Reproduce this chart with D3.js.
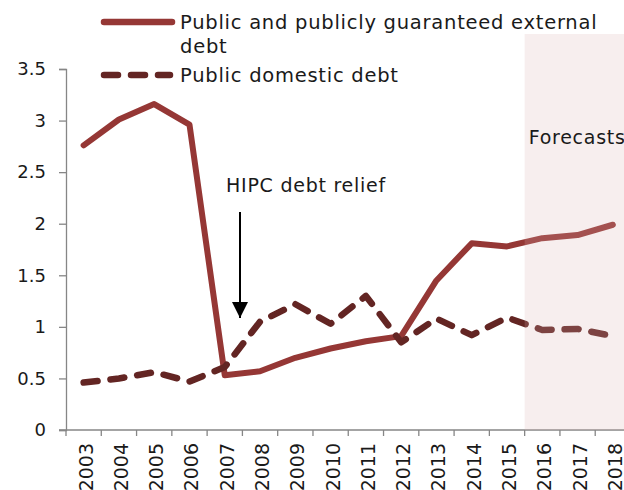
<!DOCTYPE html>
<html>
<head>
<meta charset="utf-8">
<script src="https://cdn.jsdelivr.net/npm/d3@7"></script>
<style>
  body { margin: 0; background: #fff; overflow: hidden; }
  text { font-family: "DejaVu Sans", sans-serif; fill: #1a1a1a; }
</style>
</head>
<body>
<svg id="chart" width="624" height="490"></svg>
<script>
// chart data
var years = ["2003", "2004", "2005", "2006", "2007", "2008", "2009", "2010",
             "2011", "2012", "2013", "2014", "2015", "2016", "2017", "2018"];
var externalDebt = [2.76, 3.01, 3.16, 2.96, 0.53, 0.57, 0.70, 0.79,
                    0.86, 0.91, 1.45, 1.81, 1.78, 1.86, 1.89, 1.99];
var domesticDebt = [0.46, 0.50, 0.56, 0.47, 0.61, 1.05, 1.22, 1.03,
                    1.30, 0.85, 1.08, 0.92, 1.09, 0.97, 0.98, 0.91];
var yTicks = [0, 0.5, 1, 1.5, 2, 2.5, 3, 3.5];
var forecastStart = "2016";

var svg = d3.select("#chart");

var x = d3.scaleBand()
    .domain(years)
    .range([66, 630.5]);

var y = d3.scaleLinear()
    .domain([0, 3.5])
    .range([430, 69]);

var cx = function(d) { return x(d) + x.bandwidth() / 2; };

// y axis
var yAxis = svg.append("g")
    .attr("transform", "translate(66,0)")
    .call(d3.axisLeft(y).tickValues(yTicks).tickSize(7).tickPadding(13)
        .tickFormat(function(d) { return d; }));
yAxis.select(".domain").attr("stroke", "#868686").attr("stroke-width", 1.3);
yAxis.selectAll(".tick line").attr("stroke", "#868686").attr("stroke-width", 1.3);
yAxis.selectAll(".tick text")
    .attr("font-size", 18)
    .attr("font-family", "DejaVu Sans")
    .attr("fill", "#1a1a1a");

// x axis: ticks on category edges
var xAxis = svg.append("g")
    .attr("transform", "translate(0,430)");
xAxis.append("line")
    .attr("x1", 59).attr("x2", 630.5)
    .attr("stroke", "#868686").attr("stroke-width", 1.3);
xAxis.selectAll(".edge")
    .data(years)
    .enter().append("line")
    .attr("class", "edge")
    .attr("x1", function(d) { return x(d); })
    .attr("x2", function(d) { return x(d); })
    .attr("y1", 0).attr("y2", 6)
    .attr("stroke", "#868686").attr("stroke-width", 1.3);
xAxis.selectAll(".lbl")
    .data(years)
    .enter().append("text")
    .attr("class", "lbl")
    .attr("transform", function(d) { return "translate(" + (cx(d) + 9) + ",13) rotate(-90)"; })
    .attr("text-anchor", "end")
    .attr("font-size", 19)
    .text(function(d) { return d; });

// lines
var line = function(values) {
    return d3.line()
        .x(function(d, i) { return cx(years[i]); })
        .y(function(d) { return y(d); })(values);
};

svg.append("path")
    .attr("d", line(externalDebt))
    .attr("fill", "none")
    .attr("stroke", "#953735")
    .attr("stroke-width", 6)
    .attr("stroke-linejoin", "round")
    .attr("stroke-linecap", "round");

svg.append("path")
    .attr("d", line(domesticDebt))
    .attr("fill", "none")
    .attr("stroke", "#632523")
    .attr("stroke-width", 6.5)
    .attr("stroke-dasharray", "14 13")
    .attr("stroke-linejoin", "round")
    .attr("stroke-linecap", "round");

// forecast shading over the lines
svg.append("rect")
    .attr("x", x(forecastStart))
    .attr("y", 34)
    .attr("width", 624 - x(forecastStart))
    .attr("height", 430 - 34)
    .attr("fill", "#d9b3b1")
    .attr("fill-opacity", 0.22);

svg.append("text")
    .attr("x", x(forecastStart) + 4)
    .attr("y", 144)
    .attr("font-size", 19)
    .attr("letter-spacing", 0.75)
    .text("Forecasts");

// HIPC annotation
svg.append("text")
    .attr("x", 226)
    .attr("y", 192)
    .attr("font-size", 19)
    .attr("letter-spacing", 0.75)
    .text("HIPC debt relief");

svg.append("defs").append("marker")
    .attr("id", "arrow")
    .attr("viewBox", "0 0 10 10")
    .attr("refX", 10).attr("refY", 5)
    .attr("markerWidth", 16).attr("markerHeight", 16)
    .attr("markerUnits", "userSpaceOnUse")
    .attr("orient", "auto")
    .append("path")
    .attr("d", "M0,0 L10,5 L0,10 Z")
    .attr("fill", "#000");

svg.append("line")
    .attr("x1", 240).attr("y1", 212)
    .attr("x2", 240).attr("y2", 318)
    .attr("stroke", "#000")
    .attr("stroke-width", 2)
    .attr("marker-end", "url(#arrow)");

// legend
var legend = svg.append("g");
legend.append("line")
    .attr("x1", 104).attr("x2", 172)
    .attr("y1", 22).attr("y2", 22)
    .attr("stroke", "#953735").attr("stroke-width", 6.5)
    .attr("stroke-linecap", "round");
legend.append("text")
    .attr("x", 180).attr("y", 29)
    .attr("font-size", 19.5)
    .attr("letter-spacing", 0.75)
    .text("Public and publicly guaranteed external");
legend.append("text")
    .attr("x", 180).attr("y", 53)
    .attr("font-size", 19.5)
    .attr("letter-spacing", 0.75)
    .text("debt");
legend.append("line")
    .attr("x1", 104).attr("x2", 170)
    .attr("y1", 75).attr("y2", 75)
    .attr("stroke", "#632523").attr("stroke-width", 6.5)
    .attr("stroke-dasharray", "14 13")
    .attr("stroke-linecap", "round");
legend.append("text")
    .attr("x", 180).attr("y", 82)
    .attr("font-size", 19.5)
    .attr("letter-spacing", 0.75)
    .text("Public domestic debt");
</script>
</body>
</html>
